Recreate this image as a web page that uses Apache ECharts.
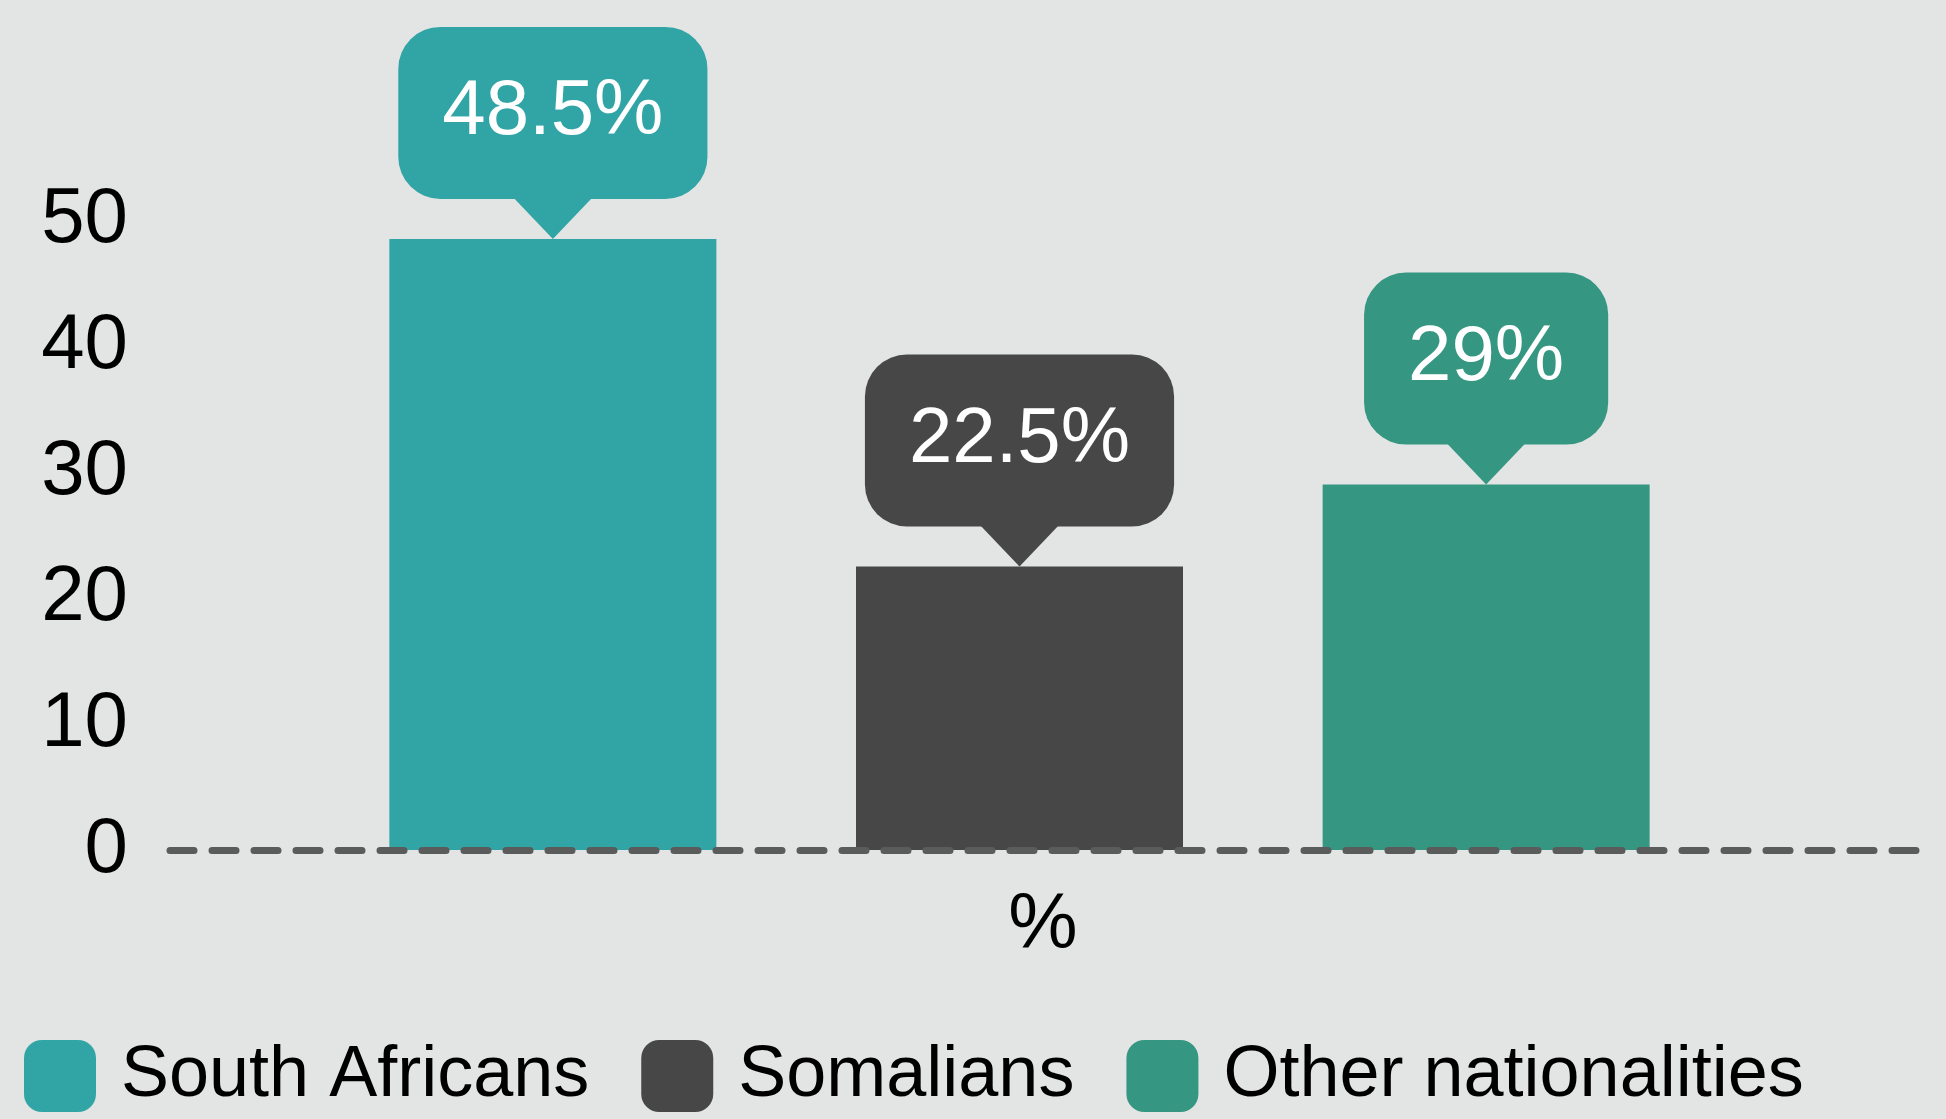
<!DOCTYPE html>
<html>
<head>
<meta charset="utf-8">
<style>
    html, body { margin: 0; padding: 0; background: #e3e5e4; }
    #chart { width: 1946px; height: 1119px; }
</style>
<script src="https://cdn.jsdelivr.net/npm/echarts@6/dist/echarts.min.js"></script>
</head>
<body>
<div id="chart"></div>
<script>
var categories = ['%'];
var seriesNames = ['South Africans', 'Somalians', 'Other nationalities'];
var seriesValues = [48.5, 22.5, 29];
var seriesColors = ['#31a5a6', '#474747', '#359781'];
var yMin = 0, yMax = 50, yStep = 10;

var FONT = "'Liberation Sans', Arial, sans-serif";
var BAR_W = 327;
var BAR_GAP = '42.7%';

var chart = echarts.init(document.getElementById('chart'));

var series = [];
// bars + bubble labels
seriesNames.forEach(function (name, i) {
    series.push({
        name: name,
        type: 'bar',
        xAxisIndex: 1,
        yAxisIndex: 1,
        barWidth: BAR_W,
        barGap: BAR_GAP,
        itemStyle: { color: seriesColors[i] },
        label: {
            show: true,
            position: 'top',
            distance: 40,
            formatter: '{c}%',
            fontFamily: FONT,
            fontSize: 78,
            lineHeight: 78,
            color: '#fff',
            backgroundColor: seriesColors[i],
            borderRadius: 42,
            padding: [47, 44]
        },
        data: [seriesValues[i]]
    });
});
// little arrow under each bubble
seriesNames.forEach(function (name, i) {
    series.push({
        name: name,
        type: 'pictorialBar',
        xAxisIndex: 1,
        yAxisIndex: 1,
        barWidth: BAR_W,
        barGap: BAR_GAP,
        symbol: 'triangle',
        symbolRotate: 180,
        symbolSize: [82, 43],
        symbolPosition: 'end',
        symbolOffset: [0, '-100%'],
        itemStyle: { color: seriesColors[i] },
        silent: true,
        z: 3,
        data: [seriesValues[i]]
    });
});

var option = {
    backgroundColor: '#e3e5e4',
    animation: false,
    textStyle: { fontFamily: FONT },
    legend: {
        data: seriesNames,
        left: 24,
        top: 1040,
        padding: 0,
        itemWidth: 72,
        itemHeight: 72,
        itemGap: 52,
        icon: 'roundRect',
        textStyle: { fontFamily: FONT, fontSize: 72, color: '#000', padding: [0, 0, 0, 20] }
    },
    grid: [
        { left: 170, right: 30, top: 220, bottom: 269 },
        { left: 170, right: 77, top: 220, bottom: 269 }
    ],
    xAxis: [
        {
            type: 'category',
            gridIndex: 0,
            data: categories,
            z: 10,
            axisTick: { show: false },
            axisLine: { lineStyle: { color: '#5a5c5b', width: 7, type: [24, 18] } },
            axisLabel: { fontFamily: FONT, fontSize: 78, color: '#000', margin: 37 }
        },
        {
            type: 'category',
            gridIndex: 1,
            data: categories,
            show: false
        }
    ],
    yAxis: [
        {
            type: 'value',
            gridIndex: 0,
            min: yMin,
            max: yMax,
            interval: yStep,
            splitLine: { show: false },
            axisLine: { show: false },
            axisTick: { show: false },
            axisLabel: { fontFamily: FONT, fontSize: 78, color: '#000', margin: 42 }
        },
        {
            type: 'value',
            gridIndex: 1,
            min: yMin,
            max: yMax,
            interval: yStep,
            show: false
        }
    ],
    series: series
};

chart.setOption(option);
</script>
</body>
</html>
